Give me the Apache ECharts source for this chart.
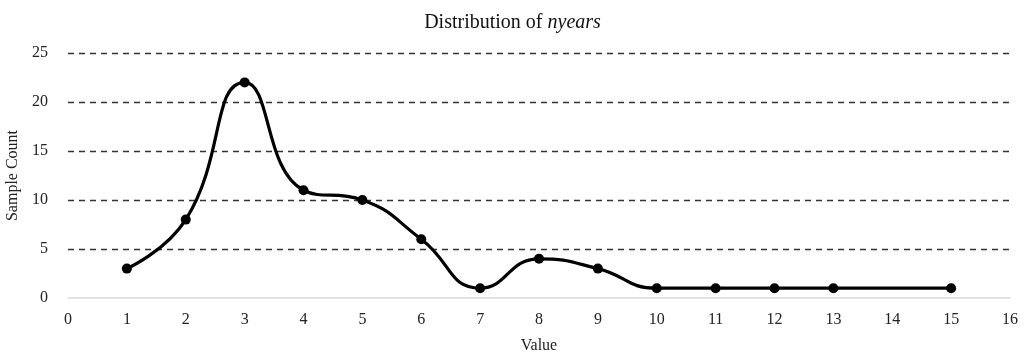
<!DOCTYPE html>
<html>
<head>
<meta charset="utf-8">
<script src="https://cdn.jsdelivr.net/npm/echarts@6/dist/echarts.min.js"></script>
<style>
  html, body { margin: 0; padding: 0; background: #fff; }
  #chart { width: 1025px; height: 360px; }
</style>
</head>
<body>
<div id="chart"></div>
<script>
// values
const xValues = [1, 2, 3, 4, 5, 6, 7, 8, 9, 10, 11, 12, 13, 15];
const counts = [3, 8, 22, 11, 10, 6, 1, 4, 3, 1, 1, 1, 1, 1];

const serif = '"Liberation Serif", "DejaVu Serif", serif';
const chart = echarts.init(document.getElementById('chart'));

const option = {
  backgroundColor: '#fff',
  animation: false,
  textStyle: { fontFamily: serif, color: '#222' },
  title: {
    text: '{n|Distribution of }{i|nyears}',
    left: 'center',
    top: 8,
    textStyle: {
      fontWeight: 'normal',
      rich: {
        n: { fontFamily: serif, fontSize: 20, fontWeight: 'normal', color: '#111' },
        i: { fontFamily: serif, fontSize: 20, fontWeight: 'normal', fontStyle: 'italic', color: '#111' }
      }
    }
  },
  grid: { left: 68, right: 15, top: 53, bottom: 62, outerBoundsMode: 'none' },
  xAxis: {
    type: 'value',
    min: 0,
    max: 16,
    interval: 1,
    name: 'Value',
    nameLocation: 'middle',
    nameGap: 40,
    nameTextStyle: { fontFamily: serif, fontSize: 16, color: '#222' },
    axisLine: { show: true, lineStyle: { color: '#d9d9d9', width: 1.5 } },
    axisTick: { show: false },
    splitLine: { show: false },
    axisLabel: { fontFamily: serif, fontSize: 16, color: '#222', margin: 14 }
  },
  yAxis: {
    type: 'value',
    min: 0,
    max: 25,
    interval: 5,
    name: 'Sample Count',
    nameLocation: 'middle',
    nameGap: 42,
    nameTextStyle: { fontFamily: serif, fontSize: 16, color: '#222' },
    axisLine: { show: false },
    axisTick: { show: false },
    splitLine: { showMinLine: false, lineStyle: { color: '#333', type: [6, 5], width: 1.3 } },
    axisLabel: { fontFamily: serif, fontSize: 16, color: '#222', margin: 20 }
  },
  series: [{
    type: 'line',
    data: xValues.map((x, i) => [x, counts[i]]),
    smooth: 0.5,
    symbol: 'circle',
    symbolSize: 10,
    lineStyle: { color: '#000', width: 3.2 },
    itemStyle: { color: '#000' }
  }]
};

chart.setOption(option);
</script>
</body>
</html>
